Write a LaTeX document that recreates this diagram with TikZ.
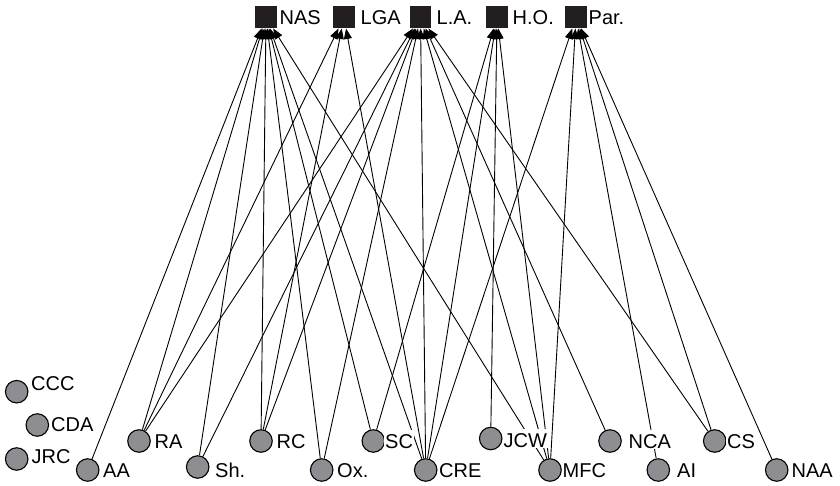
\documentclass[tikz,border=0pt]{standalone}
\usepackage{fontspec}
\setmainfont{Liberation Sans}
\usetikzlibrary{arrows.meta}
\definecolor{nodegray}{RGB}{142,142,146}
\definecolor{sqfill}{RGB}{35,31,32}
\begin{document}
\begin{tikzpicture}[x=1pt,y=-1pt,
  actor/.style={circle,draw=black,line width=1.1pt,fill=nodegray,minimum size=22.5pt,inner sep=0pt},
  event/.style={rectangle,fill=sqfill,minimum width=21.5pt,minimum height=22.5pt,inner sep=0pt},
  lbl/.style={font=\fontsize{20}{24}\selectfont,inner sep=1pt,fill=white,text height=17pt,text depth=0pt,anchor=base west},
  toplbl/.style={font=\fontsize{20}{24}\selectfont,inner sep=1pt,anchor=base west},
  tie/.style={line width=0.9pt,-{Triangle[length=10.5pt,width=8pt]}}]
\useasboundingbox (0,0) rectangle (840,486);
% events (squares)
\node[event] (nas) at (266,17) {};
\node[event] (lga) at (344,17) {};
\node[event] (la)  at (420.5,17) {};
\node[event] (ho)  at (497,17) {};
\node[event] (par) at (576,17) {};
% actors (circles)
\node[actor] (ccc) at (16.7,391.7) {};
\node[actor] (cda) at (37.3,425) {};
\node[actor] (jrc) at (16.7,459) {};
\node[actor] (aa)  at (87.7,470) {};
\node[actor] (ra)  at (139,441) {};
\node[actor] (sh)  at (197.7,467) {};
\node[actor] (rc)  at (261,441) {};
\node[actor] (ox)  at (321.7,470) {};
\node[actor] (sc)  at (373.3,441) {};
\node[actor] (cre) at (425.7,470) {};
\node[actor] (jcw) at (490.7,438.5) {};
\node[actor] (mfc) at (550,470) {};
\node[actor] (nca) at (610,441) {};
\node[actor] (ai)  at (658.3,470) {};
\node[actor] (cs)  at (714.7,441) {};
\node[actor] (naa) at (776.7,470) {};
% ties
\draw[tie] (aa) -- (nas);
\draw[tie] (ra) -- (nas);
\draw[tie] (ra) -- (lga);
\draw[tie] (ra) -- (la);
\draw[tie] (sh) -- (nas);
\draw[tie] (sh) -- (la);
\draw[tie] (rc) -- (nas);
\draw[tie] (rc) -- (lga);
\draw[tie] (rc) -- (la);
\draw[tie] (ox) -- (nas);
\draw[tie] (ox) -- (la);
\draw[tie] (sc) -- (nas);
\draw[tie] (sc) -- (ho);
\draw[tie] (cre) -- (nas);
\draw[tie] (cre) -- (lga);
\draw[tie] (cre) -- (la);
\draw[tie] (cre) -- (ho);
\draw[tie] (cre) -- (par);
\draw[tie] (jcw) -- (ho);
\draw[tie] (mfc) -- (nas);
\draw[tie] (mfc) -- (la);
\draw[tie] (mfc) -- (ho);
\draw[tie] (mfc) -- (par);
\draw[tie] (nca) -- (la);
\draw[tie] (ai) -- (par);
\draw[tie] (cs) -- (la);
\draw[tie] (cs) -- (par);
\draw[tie] (naa) -- (par);
% labels
\node[toplbl] (t-nas) at (278.5,25) {NAS};
\node[toplbl] (t-lga) at (359.5,25) {LGA};
\node[toplbl] (t-la)  at (435.5,25) {L.A.};
\node[toplbl] (t-ho)  at (511.5,25) {H.O.};
\node[toplbl] (t-par) at (587.5,25) {Par.};
\node[lbl] (l-ccc) at (30,390) {CCC};
\node[lbl] (l-cda) at (50,431) {CDA};
\node[lbl] (l-jrc) at (30.5,463) {JRC};
\node[lbl] (l-aa)  at (102,477) {AA};
\node[lbl] (l-ra)  at (153.5,448) {RA};
\node[lbl] (l-sh)  at (214,477) {Sh.};
\node[lbl] (l-rc)  at (275.5,448) {RC};
\node[lbl] (l-ox)  at (336,477) {Ox.};
\node[lbl] (l-sc)  at (384,448) {SC};
\node[lbl] (l-cre) at (438,477) {CRE};
\node[lbl] (l-jcw) at (502.5,447) {JCW};
\node[lbl] (l-mfc) at (561.5,477) {MFC};
\node[lbl] (l-nca) at (627.5,448) {NCA};
\node[lbl] (l-ai)  at (676,477) {AI};
\node[lbl] (l-cs)  at (726,448) {CS};
\node[lbl] (l-naa) at (790.5,477) {NAA};
\end{tikzpicture}
\end{document}
